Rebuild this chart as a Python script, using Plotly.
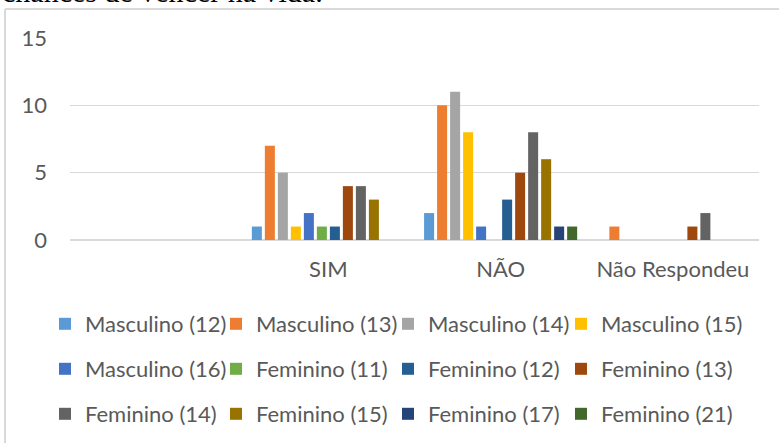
import plotly.graph_objects as go

categories = ["SIM", "NÃO", "Não Respondeu"]
series_names = ["Masculino (12)", "Masculino (13)", "Masculino (14)", "Masculino (15)",
                "Masculino (16)", "Feminino (11)", "Feminino (12)", "Feminino (13)",
                "Feminino (14)", "Feminino (15)", "Feminino (17)", "Feminino (21)"]
masc_12 = [1, 2, 0]
masc_13 = [7, 10, 1]
masc_14 = [5, 11, 0]
masc_15 = [1, 8, 0]
masc_16 = [2, 1, 0]
fem_11 = [1, 0, 0]
fem_12 = [1, 3, 0]
fem_13 = [4, 5, 1]
fem_14 = [4, 8, 2]
fem_15 = [3, 6, 0]
fem_17 = [0, 1, 0]
fem_21 = [0, 1, 0]
series_values = [masc_12, masc_13, masc_14, masc_15, masc_16, fem_11, fem_12,
                 fem_13, fem_14, fem_15, fem_17, fem_21]
colors = ["#5B9BD5", "#ED7D31", "#A5A5A5", "#FFC000", "#4472C4", "#70AD47",
          "#255E91", "#9E480E", "#636363", "#997300", "#264478", "#43682B"]
y_ticks = [0, 5, 10, 15]

FONT = "Lato"
GREY = "#595959"

W, H = 779, 443
L, R, T, B = 70, 20, 38, 203
pw = W - L - R
ph = H - T - B

def px_x(p):
    return (p - L) / pw

def px_y(p):
    return (H - B - p) / ph

def legend_key(i):
    return "legend" if i == 0 else f"legend{i + 1}"

fig = go.Figure()
for i, (name, vals, col) in enumerate(zip(series_names, series_values, colors)):
    fig.add_trace(go.Bar(name=name, x=categories, y=vals, marker_color=col,
                         marker_line_width=0, legend=legend_key(i)))

# legend grid: 3 rows x 4 columns, one legend box per entry
row_y = [324, 369, 414]
col_x = [45, 216, 388, 561]
legend_common = dict(orientation="h", xanchor="left", yanchor="middle",
                     font=dict(family=FONT, size=22, color=GREY),
                     bgcolor="rgba(0,0,0,0)", itemclick=False, itemdoubleclick=False)
legends = {}
for i in range(len(series_names)):
    r, c = divmod(i, 4)
    legends[legend_key(i)] = dict(x=px_x(col_x[c]), y=px_y(row_y[r]), **legend_common)

fig.update_layout(
    width=W, height=H,
    margin=dict(l=L, r=R, t=T, b=B, pad=0, autoexpand=False),
    paper_bgcolor="white", plot_bgcolor="white",
    barmode="group", bargap=0.094, bargroupgap=0.23,
    font=dict(family=FONT, size=22, color=GREY),
    xaxis=dict(type="category", categoryorder="array", categoryarray=categories,
               range=[-1.5, 2.5], showgrid=False, showline=False, ticks="",
               ticklabelstandoff=14, tickfont=dict(family=FONT, size=22, color=GREY),
               fixedrange=True),
    yaxis=dict(range=[0, 15], tickvals=y_ticks, showgrid=True, gridcolor="#d9d9d9",
               gridwidth=1.3, zeroline=True, zerolinecolor="#d9d9d9", zerolinewidth=2,
               showline=False, ticks="", ticklabelstandoff=22,
               tickfont=dict(family=FONT, size=22, color=GREY), fixedrange=True),
    showlegend=True,
    **legends,
)

# chart border (top and left edges visible)
fig.add_shape(type="line", xref="paper", yref="paper",
              x0=px_x(5), x1=px_x(800), y0=px_y(9), y1=px_y(9),
              line=dict(color="#d9d9d9", width=2))
fig.add_shape(type="line", xref="paper", yref="paper",
              x0=px_x(5), x1=px_x(5), y0=px_y(9), y1=px_y(460),
              line=dict(color="#d9d9d9", width=2))

# cut-off document text above the chart
fig.add_annotation(text="chances de vencer na vida.", xref="paper", yref="paper",
                   x=px_x(0), y=px_y(10), xanchor="left", yanchor="bottom",
                   showarrow=False,
                   font=dict(family="Liberation Serif", size=30, color="black"))

fig.write_html("out.html", config={"displayModeBar": False},
               post_script="document.body.style.margin='0';")
